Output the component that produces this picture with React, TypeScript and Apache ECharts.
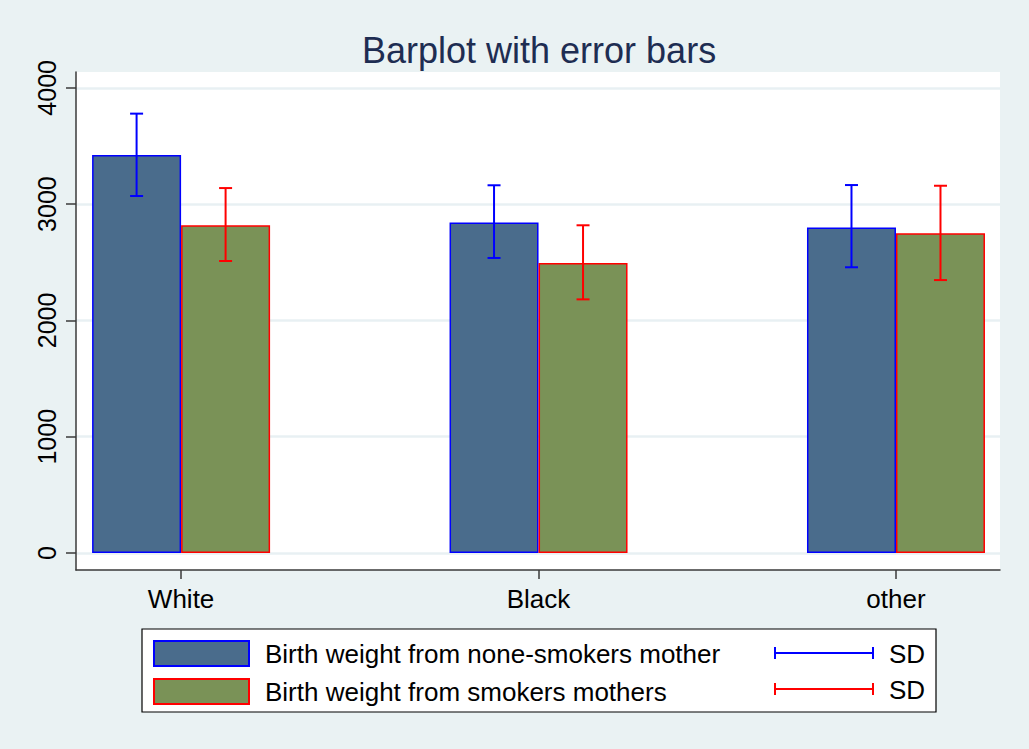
import React, { useEffect, useRef } from "react";
import * as echarts from "echarts";

const categories = ["White", "Black", "other"];
const nonSmokerMean = [3422, 2843, 2800];
const nonSmokerLow = [3070, 2537, 2457];
const nonSmokerHigh = [3778, 3162, 3164];
const smokerMean = [2818, 2493, 2749];
const smokerLow = [2511, 2181, 2347];
const smokerHigh = [3138, 2818, 3158];
const yTicks = [0, 1000, 2000, 3000, 4000];
const xTicks = [0, 1, 2];

const FONT = "'Liberation Sans', Arial, sans-serif";
const BAR_W = 89;

function errorSeries(name: string, low: number[], high: number[], color: string, offset: number) {
  return {
    type: "custom",
    name,
    xAxisIndex: 0,
    yAxisIndex: 0,
    z: 5,
    data: categories.map((_, i) => [i, low[i], high[i]]),
    encode: { x: 0, y: [1, 2] },
    renderItem: (params: any, api: any) => {
      const x = api.value(0);
      const lo = api.coord([x, api.value(1)]);
      const hi = api.coord([x, api.value(2)]);
      const cx = lo[0] + offset;
      const cap = 6.5;
      const style = { stroke: color, lineWidth: 2, fill: null };
      return {
        type: "group",
        children: [
          { type: "line", shape: { x1: cx, y1: lo[1], x2: cx, y2: hi[1] }, style },
          { type: "line", shape: { x1: cx - cap, y1: lo[1], x2: cx + cap, y2: lo[1] }, style },
          { type: "line", shape: { x1: cx - cap, y1: hi[1], x2: cx + cap, y2: hi[1] }, style },
        ],
      };
    },
  };
}

export default function App() {
  const ref = useRef<HTMLDivElement>(null);
  useEffect(() => {
    if (!ref.current) return;
    const chart = echarts.init(ref.current, undefined, { renderer: "svg" });
    const axisColor = "#3a3a3a";
    chart.setOption({
      animation: false,
      backgroundColor: "#EAF2F3",
      textStyle: { fontFamily: FONT },
      title: {
        text: "Barplot with error bars",
        left: 357,
        top: 27,
        textStyle: { fontFamily: FONT, fontSize: 36, fontWeight: "normal", color: "#1E2D52" },
      },
      grid: {
        left: 76,
        right: 29,
        top: 72,
        bottom: 179,
        show: true,
        backgroundColor: "#ffffff",
        borderWidth: 0,
      },
      xAxis: {
        type: "value",
        min: -0.294,
        max: 2.291,
        axisLine: { show: true, onZero: false, lineStyle: { color: axisColor, width: 1.5 } },
        axisTick: { show: true, customValues: xTicks, length: 9, lineStyle: { color: axisColor, width: 1.5 } },
        axisLabel: {
          customValues: xTicks,
          formatter: (v: number) => categories[Math.round(v)] ?? "",
          fontSize: 26,
          color: "#000",
          margin: 16,
          fontFamily: FONT,
        },
        splitLine: { show: false },
      },
      yAxis: {
        type: "value",
        min: -146,
        max: 4136,
        axisLine: { show: true, onZero: false, lineStyle: { color: axisColor, width: 1.5 } },
        axisTick: { show: true, customValues: yTicks, length: 10, lineStyle: { color: axisColor, width: 1.5 } },
        axisLabel: {
          customValues: yTicks,
          formatter: (v: number) => String(v),
          rotate: 90,
          fontSize: 25,
          color: "#000",
          margin: 17,
          fontFamily: FONT,
        },
        splitLine: { show: true, customValues: yTicks, lineStyle: { color: "#E8F0F3", width: 2.5 } },
      },
      legend: {
        orient: "vertical",
        left: 153,
        top: 640,
        icon: "rect",
        itemWidth: 95,
        itemHeight: 25,
        itemGap: 11,
        data: ["Birth weight from none-smokers mother", "Birth weight from smokers mothers"],
        textStyle: { fontFamily: FONT, fontSize: 26, color: "#000", padding: [0, 0, 0, 11] },
        padding: 0,
      },
      graphic: [
        {
          type: "rect",
          shape: { x: 142, y: 629, width: 794, height: 83 },
          style: { fill: "#ffffff", stroke: "#000", lineWidth: 1.2 },
          z: -1,
          silent: true,
        },
        {
          type: "group",
          children: [
            { type: "line", shape: { x1: 775, y1: 653, x2: 873, y2: 653 }, style: { stroke: "#0000FF", lineWidth: 2 } },
            { type: "line", shape: { x1: 775, y1: 647, x2: 775, y2: 659 }, style: { stroke: "#0000FF", lineWidth: 2 } },
            { type: "line", shape: { x1: 873, y1: 647, x2: 873, y2: 659 }, style: { stroke: "#0000FF", lineWidth: 2 } },
            { type: "text", x: 889, y: 654, style: { text: "SD", fontSize: 26, fontFamily: FONT, fill: "#000", verticalAlign: "middle" } },
            { type: "line", shape: { x1: 775, y1: 689, x2: 873, y2: 689 }, style: { stroke: "#FF0000", lineWidth: 2 } },
            { type: "line", shape: { x1: 775, y1: 683, x2: 775, y2: 695 }, style: { stroke: "#FF0000", lineWidth: 2 } },
            { type: "line", shape: { x1: 873, y1: 683, x2: 873, y2: 695 }, style: { stroke: "#FF0000", lineWidth: 2 } },
            { type: "text", x: 889, y: 690, style: { text: "SD", fontSize: 26, fontFamily: FONT, fill: "#000", verticalAlign: "middle" } },
          ],
        },
      ],
      series: [
        {
          type: "bar",
          name: "Birth weight from none-smokers mother",
          data: categories.map((_, i) => [i, nonSmokerMean[i]]),
          barWidth: BAR_W,
          barGap: "0%",
          itemStyle: { color: "#4A6C8C", borderColor: "#0000FF", borderWidth: 1.5 },
        },
        {
          type: "bar",
          name: "Birth weight from smokers mothers",
          data: categories.map((_, i) => [i, smokerMean[i]]),
          barWidth: BAR_W,
          barGap: "0%",
          itemStyle: { color: "#7A9257", borderColor: "#FF0000", borderWidth: 1.5 },
        },
        errorSeries("SD", nonSmokerLow, nonSmokerHigh, "#0000FF", -BAR_W / 2),
        errorSeries("SD ", smokerLow, smokerHigh, "#FF0000", BAR_W / 2),
      ],
    });
    return () => chart.dispose();
  }, []);
  return <div ref={ref} style={{ width: 1029, height: 749, position: "absolute", left: 0, top: 0 }} />;
}
